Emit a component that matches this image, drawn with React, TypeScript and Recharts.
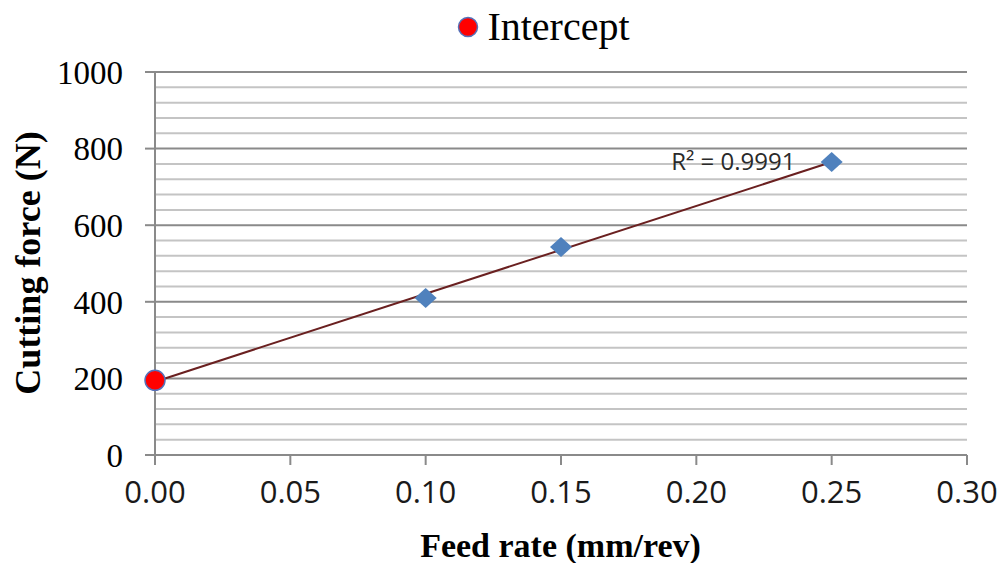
import {
  CartesianGrid,
  Legend,
  ReferenceDot,
  ReferenceLine,
  Scatter,
  ScatterChart,
  XAxis,
  YAxis
} from 'recharts';

// measured cutting force at each feed rate
const feedRates = [0.1, 0.15, 0.25];
const cuttingForces = [410, 543, 765];

// extrapolated force at zero feed
const interceptFeed = [0];
const interceptForce = [195];

const xTicks = [0, 0.05, 0.1, 0.15, 0.2, 0.25, 0.3];
const yTicks = [0, 200, 400, 600, 800, 1000];
const yMinorTicks = [40, 80, 120, 160, 240, 280, 320, 360, 440, 480, 520, 560, 640, 680, 720, 760, 840, 880, 920, 960];

const rSquaredLabel = 'R² = 0.9991';
const rSquaredAt = { x: 0.1907, y: 765 };

const serif = '"Liberation Serif", "Times New Roman", serif';
const sans = '"Open Sans", sans-serif';

const measured = feedRates.map((x, i) => ({ x, y: cuttingForces[i] }));
const intercept = interceptFeed.map((x, i) => ({ x, y: interceptForce[i] }));

// least-squares line through all points, drawn from first to last feed rate
const allPts = [...intercept, ...measured];
const n = allPts.length;
const mx = allPts.reduce((s, p) => s + p.x, 0) / n;
const my = allPts.reduce((s, p) => s + p.y, 0) / n;
const slope =
  allPts.reduce((s, p) => s + (p.x - mx) * (p.y - my), 0) /
  allPts.reduce((s, p) => s + (p.x - mx) ** 2, 0);
const offset = my - slope * mx;
const xMin = Math.min(...allPts.map((p) => p.x));
const xMax = Math.max(...allPts.map((p) => p.x));
const trend = [xMin, xMax].map((x) => ({ x, y: offset + slope * x }));

const Diamond = (props: any) => {
  const { cx, cy } = props;
  return (
    <polygon
      points={`${cx},${cy - 10} ${cx + 11},${cy} ${cx},${cy + 10} ${cx - 11},${cy}`}
      fill="#4F81BD"
    />
  );
};

const RedDot = (props: any) => (
  <circle cx={props.cx} cy={props.cy} r={10} fill="#FF0000" stroke="#5670B8" strokeWidth={1.5} />
);

const NoDot = () => <g />;

const LegendBox = () => (
  <div style={{ display: 'flex', justifyContent: 'center', alignItems: 'center' }}>
    <svg width={22} height={22} style={{ marginRight: 8 }}>
      <circle cx={11} cy={11} r={9.5} fill="#FF0000" stroke="#5670B8" strokeWidth={1.5} />
    </svg>
    <span style={{ fontFamily: serif, fontSize: 40, color: '#000' }}>Intercept</span>
  </div>
);

const App = () => {
  return (
    <div style={{ position: 'absolute', left: 0, top: 0, width: 1001, height: 563, background: '#fff' }}>
      <ScatterChart width={1001} height={563} margin={{ top: 72, right: 34, left: 0, bottom: 0 }}>
        <CartesianGrid vertical={false} stroke="#8a8a8a" strokeWidth={2} />
        {yMinorTicks.map((v) => (
          <ReferenceLine key={v} y={v} stroke="#c4c4c4" strokeWidth={2} />
        ))}
        <XAxis
          type="number"
          dataKey="x"
          domain={[0, 0.3]}
          ticks={xTicks}
          tickFormatter={(v: number) => v.toFixed(2)}
          height={108}
          stroke="#8a8a8a"
          strokeWidth={2}
          tickSize={10}
          tickMargin={16}
          tick={{ fill: '#1a1a1a', fontFamily: sans, fontSize: 31 }}
        />
        <YAxis
          type="number"
          dataKey="y"
          domain={[0, 1000]}
          ticks={yTicks}
          width={155}
          stroke="#8a8a8a"
          strokeWidth={2}
          tickSize={10}
          tickMargin={22}
          tick={{ fill: '#000', fontFamily: serif, fontSize: 33 }}
        />
        <Legend
          verticalAlign="middle"
          align="center"
          wrapperStyle={{ top: 3, left: 43, width: 1001 }}
          content={LegendBox}
        />
        <Scatter
          name="trend"
          data={trend}
          line={{ stroke: '#6A2020', strokeWidth: 2 }}
          shape={NoDot}
          legendType="none"
          isAnimationActive={false}
        />
        <Scatter name="measured" data={measured} shape={Diamond} legendType="none" isAnimationActive={false} />
        <Scatter name="Intercept" data={intercept} shape={RedDot} isAnimationActive={false} />
        <ReferenceDot
          x={rSquaredAt.x}
          y={rSquaredAt.y}
          r={0}
          shape={(p: any) => (
            <text x={p.cx} y={p.cy + 8} fontFamily={sans} fontSize={24} fill="#2a2a2a">
              {rSquaredLabel}
            </text>
          )}
        />
      </ScatterChart>
      <div
        style={{
          position: 'absolute',
          left: 0,
          top: 527,
          width: 1121,
          textAlign: 'center',
          fontFamily: serif,
          fontWeight: 'bold',
          fontSize: 34
        }}
      >
        Feed rate (mm/rev)
      </div>
      <div
        style={{
          position: 'absolute',
          left: 28,
          top: 263,
          transform: 'translate(-50%, -50%) rotate(-90deg)',
          whiteSpace: 'nowrap',
          fontFamily: serif,
          fontWeight: 'bold',
          fontSize: 36
        }}
      >
        Cutting force (N)
      </div>
    </div>
  );
};

export default App;
